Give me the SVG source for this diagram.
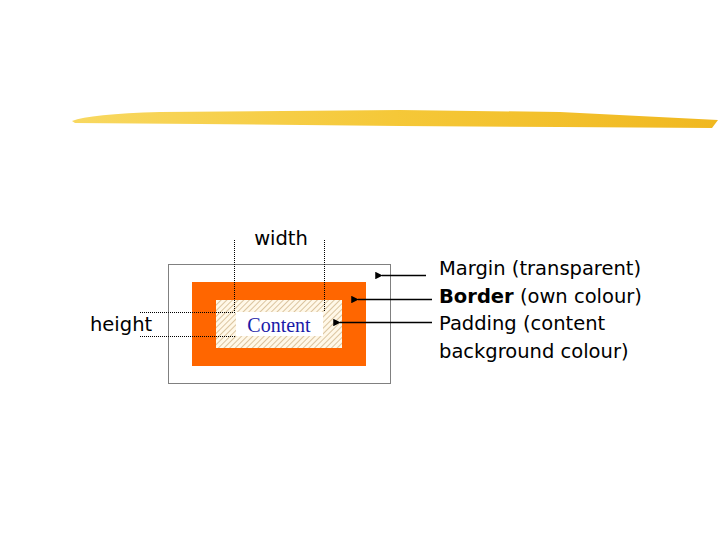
<svg xmlns="http://www.w3.org/2000/svg" width="720" height="540" viewBox="0 0 720 540">
<defs>
<pattern id="hatch" width="4" height="4" patternUnits="userSpaceOnUse" patternTransform="rotate(45)"><rect width="4" height="4" fill="#fff8e8"/><line x1="0" y1="0" x2="0" y2="4" stroke="#c8a878" stroke-width="1.3"/></pattern>
<linearGradient id="g" x1="0" x2="1"><stop offset="0" stop-color="#f8d860"/><stop offset="0.5" stop-color="#f5c838"/><stop offset="1" stop-color="#f0b820"/></linearGradient>
<marker id="ah" viewBox="0 0 10 10" refX="1" refY="5" markerWidth="7" markerHeight="5" orient="auto-start-reverse"><path d="M0,5 L10,0 L10,10 Z" fill="#000"/></marker>
</defs>
<style>
.t{font-family:"DejaVu Sans",Verdana,sans-serif;font-size:19.5px;fill:#000}
.d{fill:none;stroke:#000;stroke-width:1;stroke-dasharray:1,1}
.a{stroke:#000;stroke-width:1.5;fill:none}
</style>
<rect width="720" height="540" fill="#fff"/>
<path d="M72,121 Q90,114 160,112 L400,110 L560,112 L718,120 L712,128 L560,127 L400,126 L200,124 L75,123 Z" fill="url(#g)"/>
<g id="margin"><rect class="d" x="168.5" y="264.5" width="222" height="119"/></g>
<g id="border"><rect x="192" y="282" width="174" height="84" fill="#ff6600"/></g>
<g id="padding"><rect x="216" y="300" width="126" height="48" fill="url(#hatch)"/><rect x="236" y="312" width="87" height="24" fill="#fff"/></g>
<g id="content"><text x="279" y="332" text-anchor="middle" font-family="Liberation Serif,serif" font-size="20" fill="#1a1aa8">Content</text></g>
<g id="dims">
<line class="d" x1="234.5" y1="240" x2="234.5" y2="312"/>
<line class="d" x1="324.5" y1="240" x2="324.5" y2="312"/>
<line class="d" x1="140" y1="312.5" x2="236" y2="312.5"/>
<line class="d" x1="140" y1="336.5" x2="236" y2="336.5"/>
<text class="t" x="281" y="245" text-anchor="middle">width</text>
<text class="t" x="90" y="331">height</text>
</g>
<g id="connectors">
<line class="a" x1="426" y1="275.5" x2="382" y2="275.5" marker-end="url(#ah)"/>
<line class="a" x1="432" y1="299.5" x2="358" y2="299.5" marker-end="url(#ah)"/>
<line class="a" x1="432" y1="322.5" x2="340" y2="322.5" stroke-width="1" marker-end="url(#ah)"/>
</g>
<g id="labels">
<text class="t" x="439" y="275">Margin (transparent)</text>
<text class="t" x="439" y="303"><tspan font-weight="bold">Border</tspan> (own colour)</text>
<text class="t" x="439" y="330">Padding (content</text>
<text class="t" x="439" y="358">background colour)</text>
</g>
</svg>
